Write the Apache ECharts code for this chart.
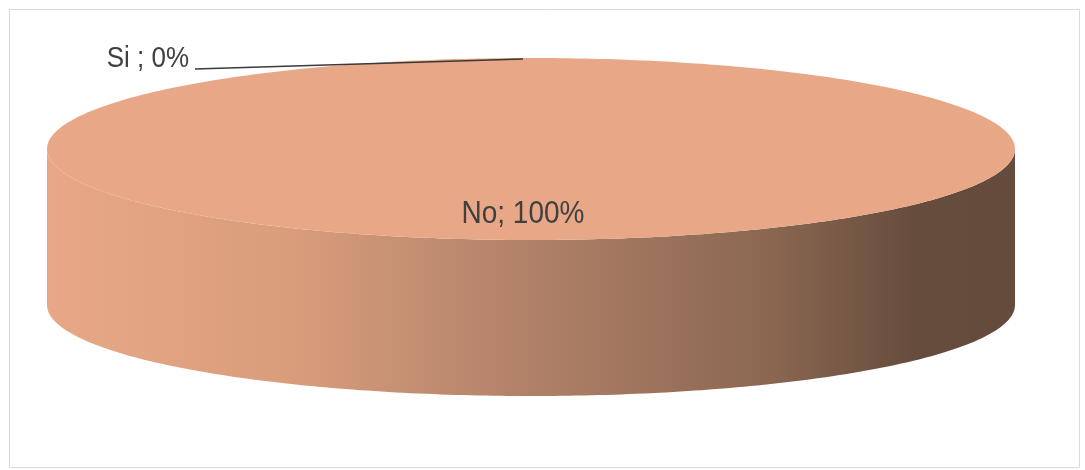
<!DOCTYPE html>
<html>
<head>
<meta charset="utf-8">
<script src="https://cdn.jsdelivr.net/npm/echarts@6/dist/echarts.min.js"></script>
<style>
html,body{margin:0;padding:0;background:#fff;}
#chart{width:1085px;height:470px;}
</style>
</head>
<body>
<div id="chart"></div>
<script>
const categories = ['Si', 'No'];
const values = [0, 100];
const labelSeparators = [' ; ', '; '];

const chart = echarts.init(document.getElementById('chart'));
const total = values.reduce((a, b) => a + b, 0);

const geo = { cx: 531, cy: 149, rx: 484, ry: 91, depth: 156 };
const FONT = '"Liberation Sans", Arial, sans-serif';
const TEXT = '#404040';

function pt(t, dy) {
  return [geo.cx + geo.rx * Math.cos(t), geo.cy + geo.ry * Math.sin(t) + (dy || 0)];
}
function arc(a, b, dy, n) {
  const pts = [];
  for (let i = 0; i <= n; i++) pts.push(pt(a + (b - a) * i / n, dy));
  return pts;
}

function renderItem(params, api) {
  const idx = params.dataIndex;
  const v = api.value(0);
  let before = 0;
  for (let i = 0; i < idx; i++) before += values[i];
  const t0 = -Math.PI / 2 + 2 * Math.PI * before / total;
  const t1 = t0 + 2 * Math.PI * v / total;
  const pct = Math.round(v / total * 100) + '%';
  const label = categories[idx] + labelSeparators[idx] + pct;
  const children = [];

  if (v > 0) {
    [[0, Math.PI], [2 * Math.PI, 3 * Math.PI]].forEach(([lo, hi]) => {
      const a = Math.max(t0, lo), b = Math.min(t1, hi);
      if (b > a) {
        const top = arc(a, b, 0, 200);
        const bot = arc(b, a, geo.depth, 200);
        children.push({
          type: 'polygon', z2: 1,
          shape: { points: top.concat(bot) },
          style: {
            fill: {
              type: 'linear', global: true,
              x: geo.cx - geo.rx, y: 0, x2: geo.cx + geo.rx, y2: 0,
              colorStops: [
                { offset: 0, color: '#E8A887' },
                { offset: 0.25, color: '#D99D7C' },
                { offset: 0.5, color: '#B08168' },
                { offset: 0.75, color: '#8A6651' },
                { offset: 0.9, color: '#654C3C' },
                { offset: 1, color: '#654B3B' }
              ]
            }
          }
        });
      }
    });
    const full = (t1 - t0) >= 2 * Math.PI - 1e-9;
    let pts = arc(t0, t1, 0, 400);
    if (!full) pts = [[geo.cx, geo.cy]].concat(pts);
    children.push({ type: 'polygon', z2: 2, shape: { points: pts }, style: { fill: '#E8A887' } });
    const lx = geo.cx - 8, ly = geo.cy + 65;
    children.push({
      type: 'text', z2: 3,
      x: lx, y: ly, scaleY: 1.12,
      style: {
        text: label, x: 0, y: 0,
        align: 'center', verticalAlign: 'middle',
        fontSize: 28, fontFamily: FONT, fill: TEXT
      }
    });
  } else {
    const rim = pt(t0, 0);
    const end = [195, 69];
    children.push({
      type: 'polyline', z2: 4,
      shape: { points: [[rim[0] - 8, rim[1] + 1], end] },
      style: { stroke: '#3a3a3a', lineWidth: 1.6, fill: null }
    });
    children.push({
      type: 'text', z2: 4,
      x: 189, y: 59, scaleY: 1.12,
      style: {
        text: label, x: 0, y: 0,
        align: 'right', verticalAlign: 'middle',
        fontSize: 26, fontFamily: FONT, fill: TEXT
      }
    });
  }
  return { type: 'group', children };
}

chart.setOption({
  animation: false,
  backgroundColor: '#ffffff',
  graphic: [{
    type: 'rect', left: 7, top: 7,
    shape: { width: 1070, height: 458 },
    style: { fill: null, stroke: '#d9d9d9', lineWidth: 1 }
  }],
  series: [{
    type: 'custom',
    coordinateSystem: 'none',
    renderItem: renderItem,
    data: values.map((v, i) => ({ name: categories[i], value: [v] }))
  }]
});
</script>
</body>
</html>
